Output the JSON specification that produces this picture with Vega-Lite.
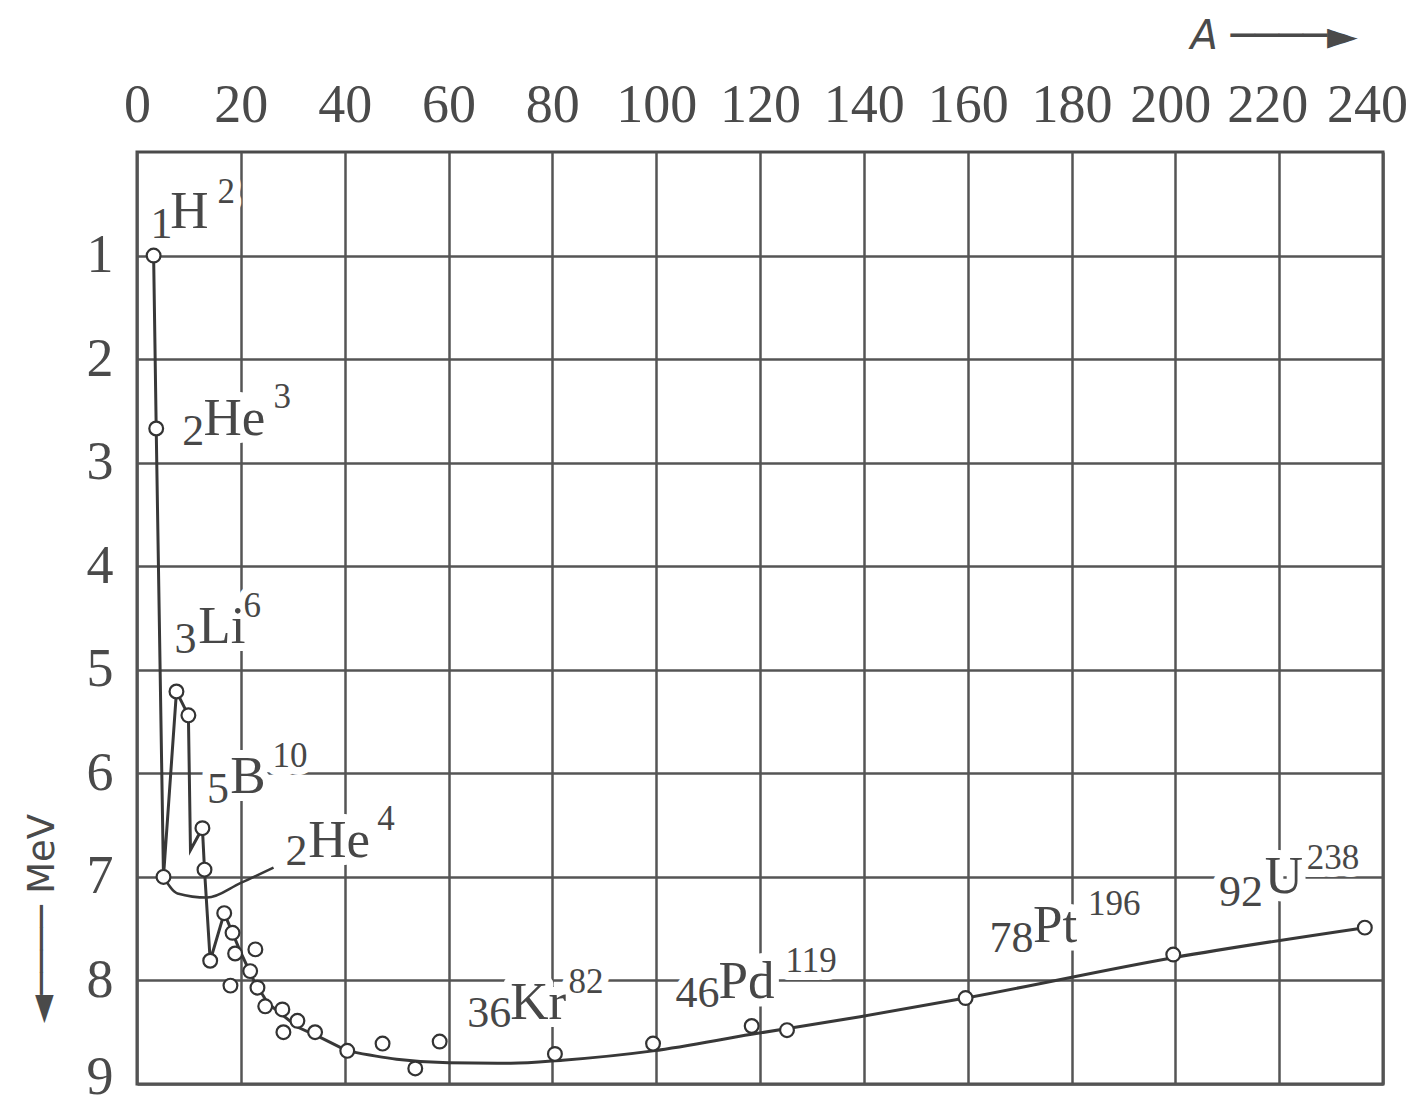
{
  "$schema": "https://vega.github.io/schema/vega-lite/v6.json",
  "autosize": {"type": "none"},
  "padding": {"left": 137, "top": 152, "right": 37, "bottom": 13},
  "width": 1246,
  "height": 932,
  "background": "white",
  "config": {
    "view": {"stroke": "#4a4a4a", "strokeWidth": 3},
    "axis": {"gridColor": "#555555", "gridWidth": 2.5, "gridOpacity": 1, "ticks": false, "domain": false,
             "labelFont": "Liberation Serif", "labelColor": "#4a4a4a", "labelOverlap": false, "labelFlush": false}
  },
  "datasets": {
    "pts": [
      {"A": 3.2, "E": 1.0}, {"A": 3.7, "E": 2.67}, {"A": 5.1, "E": 7.0}, {"A": 7.6, "E": 5.21},
      {"A": 9.9, "E": 5.44}, {"A": 12.6, "E": 6.53}, {"A": 13.0, "E": 6.93}, {"A": 14.1, "E": 7.81},
      {"A": 16.8, "E": 7.35}, {"A": 18.4, "E": 7.54}, {"A": 18.9, "E": 7.74}, {"A": 22.8, "E": 7.70},
      {"A": 21.8, "E": 7.91}, {"A": 18.0, "E": 8.05}, {"A": 23.2, "E": 8.07}, {"A": 24.7, "E": 8.25},
      {"A": 28.0, "E": 8.28}, {"A": 30.9, "E": 8.39}, {"A": 28.2, "E": 8.50}, {"A": 34.3, "E": 8.50},
      {"A": 40.5, "E": 8.68}, {"A": 47.3, "E": 8.61}, {"A": 53.6, "E": 8.85}, {"A": 58.3, "E": 8.59},
      {"A": 80.5, "E": 8.71}, {"A": 99.4, "E": 8.61}, {"A": 118.4, "E": 8.44}, {"A": 125.2, "E": 8.48},
      {"A": 159.6, "E": 8.17}, {"A": 199.6, "E": 7.75}, {"A": 236.5, "E": 7.49}
    ],
    "zig": [
      {"i": 1, "A": 3.2, "E": 1.0}, {"i": 2, "A": 3.7, "E": 2.67}, {"i": 3, "A": 5.1, "E": 7.0},
      {"i": 4, "A": 7.6, "E": 5.21}, {"i": 5, "A": 9.9, "E": 5.44}, {"i": 6, "A": 10.3, "E": 6.74},
      {"i": 7, "A": 12.6, "E": 6.53}, {"i": 8, "A": 13.0, "E": 6.93}, {"i": 9, "A": 14.1, "E": 7.81},
      {"i": 10, "A": 16.8, "E": 7.35}, {"i": 11, "A": 18.4, "E": 7.54}, {"i": 12, "A": 19.8, "E": 7.71},
      {"i": 13, "A": 22.5, "E": 8.0}, {"i": 14, "A": 25.2, "E": 8.22}, {"i": 15, "A": 30.9, "E": 8.45},
      {"i": 16, "A": 35.3, "E": 8.55}, {"i": 17, "A": 40.5, "E": 8.68}
    ],
    "curve": [
      {"A": 40.5, "E": 8.68}, {"A": 50, "E": 8.76}, {"A": 60, "E": 8.795}, {"A": 72, "E": 8.8},
      {"A": 82, "E": 8.77}, {"A": 99.4, "E": 8.68}, {"A": 118.4, "E": 8.52}, {"A": 139.3, "E": 8.35},
      {"A": 159.6, "E": 8.17}, {"A": 199.6, "E": 7.78}, {"A": 236.5, "E": 7.49}
    ],
    "leader": [
      {"A": 5.1, "E": 7.0}, {"A": 7.8, "E": 7.16}, {"A": 13.5, "E": 7.2}, {"A": 19.9, "E": 7.06}, {"A": 26.3, "E": 6.91}
    ],
    "labels": [
      {"A": 2.6, "E": 0.83, "t": "1", "role": "sub"}, {"A": 6.4, "E": 0.73, "t": "H", "role": "sym"}, {"A": 15.5, "E": 0.49, "t": "2", "role": "sup"},
      {"A": 8.7, "E": 2.83, "t": "2", "role": "sub"}, {"A": 12.8, "E": 2.73, "t": "He", "role": "sym"}, {"A": 26.3, "E": 2.47, "t": "3", "role": "sup"},
      {"A": 7.2, "E": 4.84, "t": "3", "role": "sub"}, {"A": 11.8, "E": 4.74, "t": "Li", "role": "sym"}, {"A": 20.5, "E": 4.49, "t": "6", "role": "sup"},
      {"A": 13.5, "E": 6.29, "t": "5", "role": "sub"}, {"A": 17.96, "E": 6.19, "t": "B", "role": "sym"}, {"A": 26.1, "E": 5.94, "t": "10", "role": "sup"},
      {"A": 28.6, "E": 6.89, "t": "2", "role": "sub"}, {"A": 33.0, "E": 6.81, "t": "He", "role": "sym"}, {"A": 46.3, "E": 6.55, "t": "4", "role": "sup"},
      {"A": 63.6, "E": 8.45, "t": "36", "role": "sub"}, {"A": 71.9, "E": 8.37, "t": "Kr", "role": "sym"}, {"A": 83.1, "E": 8.12, "t": "82", "role": "sup"},
      {"A": 103.7, "E": 8.26, "t": "46", "role": "sub"}, {"A": 112.0, "E": 8.17, "t": "Pd", "role": "sym"}, {"A": 124.9, "E": 7.92, "t": "119", "role": "sup"},
      {"A": 164.2, "E": 7.73, "t": "78", "role": "sub"}, {"A": 172.6, "E": 7.63, "t": "Pt", "role": "sym"}, {"A": 183.2, "E": 7.37, "t": "196", "role": "sup"},
      {"A": 208.4, "E": 7.28, "t": "92", "role": "sub"}, {"A": 217.2, "E": 7.16, "t": "U", "role": "sym"}, {"A": 225.3, "E": 6.92, "t": "238", "role": "sup"}
    ]
  },
  "encoding": {
    "x": {"field": "A", "type": "quantitative",
          "scale": {"domain": [0, 240], "nice": false, "zero": false},
          "axis": {"orient": "top", "values": [0, 20, 40, 60, 80, 100, 120, 140, 160, 180, 200, 220, 240],
                   "labelFontSize": 54, "labelPadding": 20,
                   "labelOffset": {"condition": [{"test": "datum.value == 240", "value": -16}, {"test": "datum.value == 220", "value": -12}, {"test": "datum.value == 200", "value": -5}], "value": 0},
                   "title": "A ────►", "titleFont": "DejaVu Sans", "titleFontSize": 40, "titleFontStyle": "italic",
                   "titleFontWeight": "normal", "titleColor": "#4a4a4a",
                   "titleX": 1053, "titleY": -116, "titleAlign": "left", "titleBaseline": "middle", "titleAngle": 0}},
    "y": {"field": "E", "type": "quantitative",
          "scale": {"domain": [0, 9], "nice": false, "zero": false, "reverse": true},
          "axis": {"values": [1, 2, 3, 4, 5, 6, 7, 8, 9], "labelFontSize": 54, "labelPadding": 24,
                   "labelOffset": {"condition": {"test": "datum.value == 9", "value": -7}, "value": 0},
                   "title": "◄──── MeV", "titleFont": "DejaVu Sans", "titleFontSize": 37, "titleFontWeight": "normal",
                   "titleColor": "#4a4a4a", "titleX": -95, "titleY": 766, "titleAngle": 270,
                   "titleAlign": "center", "titleBaseline": "middle"}}
  },
  "layer": [
    {"data": {"name": "labels"},
     "mark": {"type": "text", "font": "Liberation Serif", "align": "left", "baseline": "alphabetic",
              "fill": "white", "stroke": "white", "strokeWidth": 16, "strokeJoin": "round"},
     "encoding": {"text": {"field": "t"},
                  "size": {"field": "role", "type": "nominal", "scale": {"domain": ["sym", "sub", "sup"], "range": [53, 35, 35]}, "legend": null}}},
    {"data": {"name": "zig"},
     "mark": {"type": "line", "color": "#383838", "strokeWidth": 3},
     "encoding": {"order": {"field": "i", "type": "quantitative"}}},
    {"data": {"name": "curve"},
     "mark": {"type": "line", "color": "#383838", "strokeWidth": 3, "interpolate": "monotone"},
     "encoding": {}},
    {"data": {"name": "leader"},
     "mark": {"type": "line", "color": "#383838", "strokeWidth": 2.5, "interpolate": "monotone"},
     "encoding": {}},
    {"data": {"name": "labels"},
     "mark": {"type": "text", "font": "Liberation Serif", "align": "left", "baseline": "alphabetic", "fill": "#474747"},
     "encoding": {"text": {"field": "t"},
                  "size": {"field": "role", "type": "nominal", "scale": {"domain": ["sym", "sub", "sup"], "range": [53, 35, 35]}, "legend": null}}},
    {"data": {"name": "pts"},
     "mark": {"type": "point", "shape": "circle", "filled": true, "fill": "white", "stroke": "#333333", "strokeWidth": 2.2, "size": 190, "opacity": 1},
     "encoding": {}}
  ]
}
